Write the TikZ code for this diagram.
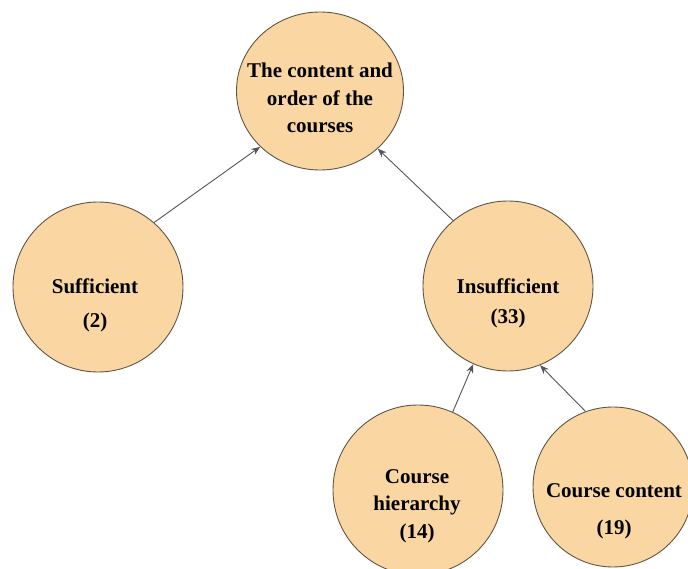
\documentclass[tikz,border=0pt]{standalone}
\usepackage{fontspec}
\setmainfont{Liberation Serif}
\usetikzlibrary{shapes.geometric, positioning, arrows.meta}

\definecolor{peach}{RGB}{250,215,162}
\definecolor{rim}{RGB}{95,85,70}
\definecolor{arrowgray}{RGB}{85,85,90}

\tikzset{
    bubble/.style={circle, draw=rim, line width=0.9pt, fill=peach, minimum size=170pt, inner sep=0pt},
    caption/.style={align=center, font=\fontsize{21}{27.5}\selectfont\bfseries},
    link/.style={-{Stealth[length=9pt, width=7pt]}, draw=arrowgray, line width=0.9pt}
}

\begin{document}
\begin{tikzpicture}[x=1pt, y=-1pt]
    \useasboundingbox (0,0) rectangle (688,569);

    % Top: the question
    \node[bubble, ellipse, minimum width=167pt, minimum height=158pt] (order) at (320,91) {};
    \node[caption] (ordertxt) at (320,98) {The content and\\order of the\\courses};

    % Level 2
    \node[bubble] (suff) at (98,287) {};
    \node[caption] (sufftxt) at (95,305) {Sufficient\\[6.5pt](2)};

    \node[bubble] (insuff) at (508,286) {};
    \node[caption] (insufftxt) at (508,303) {Insufficient\\[2.5pt](33)};

    % Level 3: reasons
    \node[bubble] (hier) at (418,490) {};
    \node[caption] (hiertxt) at (417,506) {Course\\hierarchy\\(14)};

    \node[bubble, minimum size=160pt] (cont) at (613,487) {};
    \node[caption] (conttxt) at (614,511) {Course content\\[9.5pt](19)};

    % Arrows
    \draw[link] (suff.49) -- (order.223);
    \draw[link] (insuff.130) -- (order.315);
    \draw[link] (hier.66) -- (insuff.246);
    \draw[link] (cont.110) -- (insuff.292);
\end{tikzpicture}
\end{document}
